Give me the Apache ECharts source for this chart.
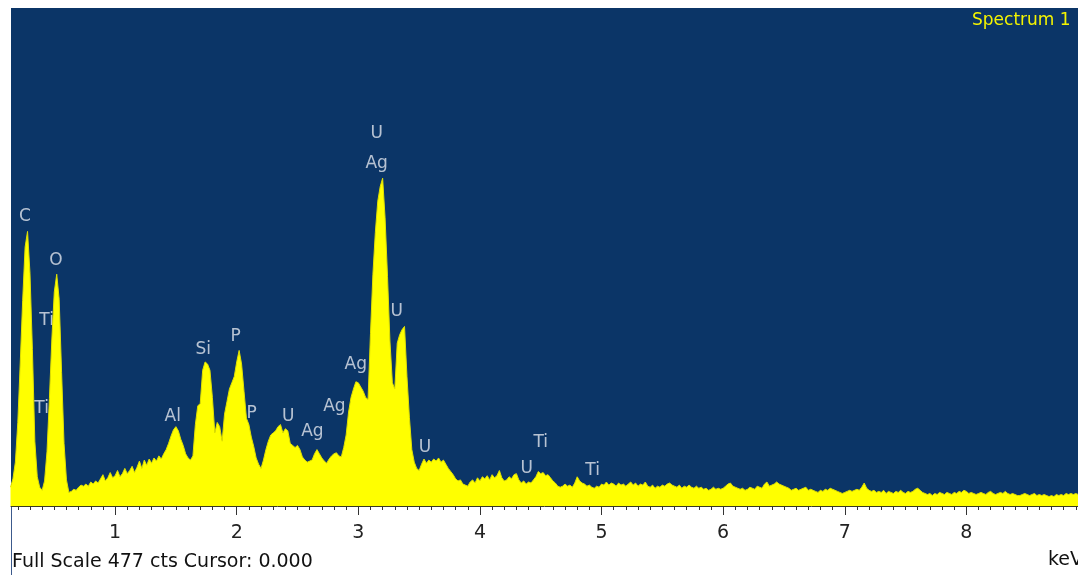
<!DOCTYPE html>
<html>
<head>
<meta charset="utf-8">
<title>Spectrum 1</title>
<script src="https://cdn.jsdelivr.net/npm/echarts@6/dist/echarts.min.js"></script>
<style>
html, body { margin: 0; padding: 0; background: #fff; overflow: hidden; }
#chart { width: 1078px; height: 575px; }
</style>
</head>
<body>
<div id="chart"></div>
<script>
// spectrum channels: first channel energy and channel width (keV)
var startKeV = 0.14;
var stepKeV = 0.02;

// counts per channel, one row = 0.5 keV
var counts = [
    18, 26, 42, 80, 137, 197, 248, 263, 223, 150, 62, 28, 18, 15, 24, 52, 103, 160, 205, 222, 198, 128, 60, 25, 13,
    14, 16, 15, 18, 20, 19, 21, 19, 23, 21, 24, 22, 26, 30, 24, 27, 32, 27, 29, 34, 28, 31, 36, 31, 34,
    38, 32, 37, 43, 36, 44, 39, 45, 41, 46, 43, 48, 45, 50, 54, 60, 67, 73, 76, 72, 64, 58, 50, 46, 44,
    48, 78, 96, 98, 130, 138, 136, 130, 104, 70, 80, 76, 62, 88, 100, 112, 118, 124, 138, 149, 136, 110, 84, 78, 66,
    57, 46, 40, 36, 44, 54, 62, 68, 70, 72, 76, 78, 70, 74, 72, 60, 58, 56, 58, 54, 47, 44, 42, 43, 44,
    50, 54, 50, 46, 43, 41, 45, 48, 50, 51, 48, 47, 56, 68, 90, 104, 112, 119, 118, 114, 110, 104, 102, 165, 222,
    262, 292, 306, 314, 276, 220, 158, 118, 112, 156, 164, 169, 172, 124, 85, 54, 42, 36, 34, 40, 45, 41, 44, 42, 45,
    43, 46, 42, 44, 40, 36, 33, 30, 26, 24, 25, 21, 20, 19, 23, 25, 22, 27, 24, 28, 26, 29, 25, 30, 27,
    29, 34, 27, 24, 25, 28, 26, 30, 31, 25, 22, 24, 21, 23, 22, 25, 28, 33, 31, 32, 29, 30, 27, 24, 22,
    19, 18, 19, 21, 19, 20, 18, 22, 28, 24, 22, 21, 19, 20, 18, 17, 19, 18, 21, 20, 23, 20, 22, 21, 19,
    22, 20, 21, 19, 21, 23, 20, 22, 19, 21, 20, 23, 19, 18, 20, 17, 19, 18, 20, 19, 21, 22, 20, 19, 18,
    20, 17, 19, 18, 20, 18, 17, 19, 17, 18, 16, 17, 15, 16, 18, 16, 17, 16, 17, 19, 21, 22, 19, 18, 17,
    16, 17, 15, 16, 18, 17, 16, 19, 18, 17, 21, 23, 19, 20, 21, 23, 21, 20, 19, 18, 17, 15, 16, 17, 15,
    16, 17, 18, 15, 16, 15, 14, 13, 15, 14, 16, 15, 17, 16, 15, 14, 13, 12, 13, 14, 15, 14, 15, 16, 15,
    18, 22, 17, 15, 14, 15, 13, 14, 13, 15, 12, 14, 13, 12, 14, 13, 15, 13, 12, 14, 13, 14, 16, 17, 15,
    13, 12, 11, 12, 10, 12, 11, 13, 12, 11, 13, 12, 11, 13, 12, 14, 13, 15, 14, 12, 13, 12, 11, 12, 13,
    12, 11, 13, 14, 12, 11, 12, 13, 12, 14, 12, 11, 12, 11, 10, 10, 11, 12, 11, 10, 11, 12, 10, 11, 10,
    11, 10, 9, 10, 9, 11, 10, 11, 10, 12, 11, 12, 11, 12, 11
];

// element line labels
var labelNames = ['C', 'O', 'Ti', 'Ti', 'Al', 'Si', 'P', 'P', 'U', 'Ag', 'Ag', 'Ag', 'U', 'Ag', 'U', 'U', 'Ti', 'U', 'Ti'];
var labelKeV = [0.259, 0.514, 0.437, 0.396, 1.474, 1.725, 1.992, 2.123, 2.424, 2.622, 2.803, 2.979, 3.151, 3.151, 3.316, 3.549, 4.50, 4.385, 4.927];
var labelCounts = [277, 235, 178, 93, 86, 150, 162, 89, 86, 71, 95, 135, 357, 328, 186, 56, 61, 36, 34];

var majorTicks = [1, 2, 3, 4, 5, 6, 7, 8];
var fullScale = 477;

var spectrum = [];
for (var i = 0; i < counts.length; i++) {
    spectrum.push([startKeV + i * stepKeV, counts[i]]);
}
var labelData = [];
for (var j = 0; j < labelNames.length; j++) {
    labelData.push({name: labelNames[j], value: [labelKeV[j], labelCounts[j]]});
}
var minorTicks = [];
for (var k = 2; k <= 89; k++) {
    minorTicks.push(k / 10);
}

var myChart = echarts.init(document.getElementById('chart'));
myChart.setOption({
    animation: false,
    grid: {
        left: 11,
        right: 0,
        top: 8,
        bottom: 69,
        show: true,
        backgroundColor: '#0b3567',
        borderWidth: 0
    },
    xAxis: [
        {
            type: 'value',
            min: 0.144,
            max: 8.918,
            axisLine: {show: true, lineStyle: {color: '#3b3b20', width: 1}},
            axisTick: {show: true, customValues: minorTicks, length: 4, lineStyle: {color: '#333'}},
            axisLabel: {show: false},
            splitLine: {show: false}
        },
        {
            type: 'value',
            gridIndex: 0,
            position: 'bottom',
            min: 0.144,
            max: 8.918,
            axisLine: {show: false},
            axisTick: {show: true, customValues: majorTicks, length: 9, lineStyle: {color: '#333'}},
            axisLabel: {
                show: true,
                customValues: majorTicks,
                margin: 18,
                color: '#222',
                fontFamily: 'DejaVu Sans',
                fontSize: 19
            },
            splitLine: {show: false}
        }
    ],
    yAxis: {
        type: 'value',
        min: 0,
        max: fullScale,
        show: false
    },
    series: [
        {
            type: 'line',
            xAxisIndex: 0,
            data: spectrum,
            showSymbol: false,
            symbol: 'none',
            lineStyle: {color: '#e0e000', width: 1},
            areaStyle: {color: '#ffff00', opacity: 1},
            clip: true
        },
        {
            type: 'scatter',
            xAxisIndex: 0,
            data: labelData,
            symbolSize: 1,
            itemStyle: {color: 'rgba(0,0,0,0)'},
            label: {
                show: true,
                position: 'inside',
                formatter: '{b}',
                color: '#e2e6ee',
                fontFamily: 'DejaVu Sans',
                fontSize: 17
            },
            silent: true
        }
    ],
    graphic: [
        {
            type: 'text',
            left: 972,
            top: 12,
            style: {text: 'Spectrum 1', fill: '#f4f400', font: '17px "DejaVu Sans"'}
        },
        {
            type: 'text',
            left: 12,
            top: 553,
            style: {text: 'Full Scale ' + fullScale + ' cts Cursor: 0.000', fill: '#111', font: '19px "DejaVu Sans"'}
        },
        {
            type: 'text',
            left: 1048,
            top: 551,
            style: {text: 'keV', fill: '#111', font: '19px "DejaVu Sans"'}
        },
        {
            type: 'rect',
            shape: {x: 11, y: 506, width: 1, height: 69},
            style: {fill: '#3c5a8c'}
        }
    ]
});
</script>
</body>
</html>
